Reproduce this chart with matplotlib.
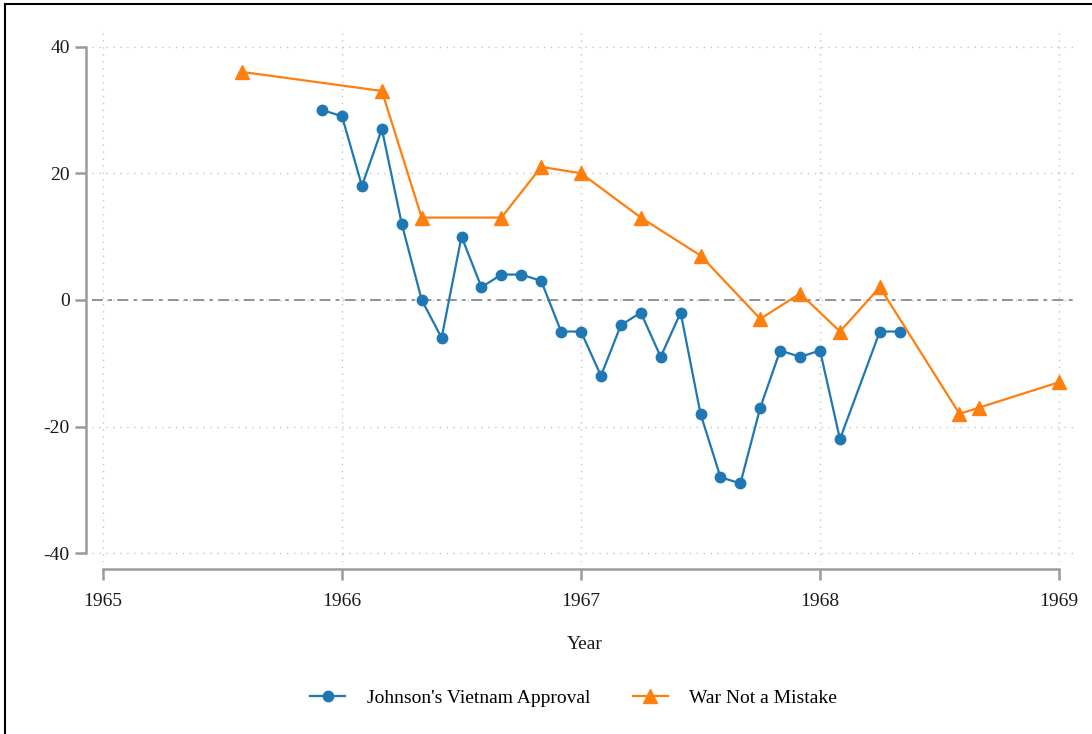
import numpy as np
import matplotlib
matplotlib.use("Agg")
import matplotlib.pyplot as plt
from matplotlib.lines import Line2D

plt.rcParams['font.family'] = ['Liberation Serif', 'DejaVu Serif']
plt.rcParams['axes.unicode_minus'] = False

# monthly poll values, x as year + (month-1)/12
approval_x = [1965 + 11/12] + [1966 + m/12 for m in range(12)] + \
             [1967 + m/12 for m in range(12)] + [1968.0, 1968 + 1/12, 1968 + 3/12, 1968 + 4/12]
approval_y = [30, 29, 18, 27, 12, 0, -6, 10, 2, 4, 4, 3, -5,
              -5, -12, -4, -2, -9, -2, -18, -28, -29, -17, -8, -9,
              -8, -22, -5, -5]

mistake_x = [1965 + 7/12, 1966 + 2/12, 1966 + 4/12, 1966 + 8/12, 1966 + 10/12,
             1967.0, 1967 + 3/12, 1967 + 6/12, 1967 + 9/12, 1967 + 11/12,
             1968 + 1/12, 1968 + 3/12, 1968 + 7/12, 1968 + 8/12, 1969.0]
mistake_y = [36, 33, 13, 13, 21, 20, 13, 7, -3, 1, -5, 2, -18, -17, -13]

xticks = [1965, 1966, 1967, 1968, 1969]
yticks = [-40, -20, 0, 20, 40]

blue = '#1f77b4'
orange = '#ff7f0e'
axis_grey = '#9a9a9a'
fs = 14

W, H = 1092, 734
fig = plt.figure(figsize=(W / 100, H / 100), dpi=100)
ax = fig.add_axes([92 / W, 1 - 562 / H, (1077 - 92) / W, (562 - 27) / H])

ax.set_xlim(1964.954, 1969.075)
ax.set_ylim(-41.4, 43.1)

# grid
for t in xticks:
    ax.axvline(t, color='#c4c4c4', lw=1.0, ls=(0, (1, 4)), zorder=0)
for t in yticks:
    ax.axhline(t, color='#c4c4c4', lw=1.0, ls=(0, (1, 4)), zorder=0)

ax.axhline(0, color='#8a8a8a', lw=1.3, ls=(0, (6, 3, 2, 3)), zorder=1)

ax.plot(approval_x, approval_y, color=blue, lw=1.6, marker='o', ms=7.5, zorder=3,
        label="Johnson's Vietnam Approval")
ax.plot(mistake_x, mistake_y, color=orange, lw=1.6, marker='^', ms=9.5, zorder=3,
        label='War Not a Mistake')

# stata-like detached axes
for s in ['top', 'right']:
    ax.spines[s].set_visible(False)
ax.spines['left'].set_position(('outward', 4))
ax.spines['bottom'].set_position(('outward', 5))
ax.spines['left'].set_bounds(-40, 40)
ax.spines['bottom'].set_bounds(1965, 1969)
for s in ['left', 'bottom']:
    ax.spines[s].set_color(axis_grey)
    ax.spines[s].set_linewidth(1.8)

ax.set_xticks(xticks)
ax.set_yticks(yticks)
ax.tick_params(axis='both', colors=axis_grey, length=8, width=1.8, labelsize=fs,
               labelcolor='#1a1a1a')
ax.tick_params(axis='x', pad=9)
ax.tick_params(axis='y', pad=4)

ax.set_xlabel('Year', fontsize=fs, color='#1a1a1a', labelpad=19)

ax.legend(loc='upper center', bbox_to_anchor=(0.489, -0.205), ncol=2, frameon=False,
          fontsize=fs, handlelength=1.8, columnspacing=2.2, handletextpad=1.1)

# outer frame, top and left edges
fig.add_artist(Line2D([5 / W, 1], [1 - 4 / H, 1 - 4 / H], color='black', lw=1.5,
                      transform=fig.transFigure))
fig.add_artist(Line2D([5 / W, 5 / W], [0, 1 - 4 / H], color='black', lw=1.5,
                      transform=fig.transFigure))

fig.savefig('out.png', dpi=100)
